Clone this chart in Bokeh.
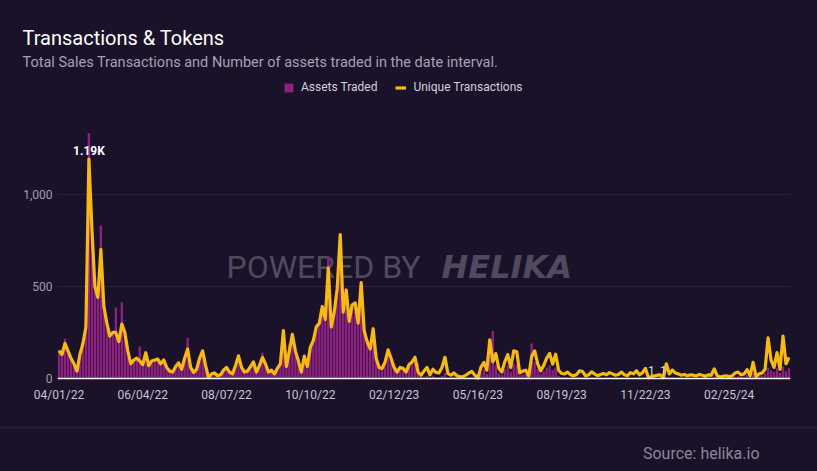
from bokeh.plotting import figure
from bokeh.layouts import column
from bokeh.models import (Range1d, FixedTicker, NumeralTickFormatter, Label, Legend,
                          LegendItem, Span, ColumnDataSource)
from bokeh.core.properties import value
from bokeh.embed import file_html
from bokeh.resources import INLINE

# ---------------- data ----------------
tick_positions = [0, 28, 56, 84, 112, 140, 168, 196, 224]
tick_labels = ["04/01/22", "06/04/22", "08/07/22", "10/10/22", "02/12/23",
               "05/16/23", "08/19/23", "11/22/23", "02/25/24"]

unique_transactions = [
    150, 130, 190, 150, 110, 80, 40, 130, 190, 280,
    1190, 810, 500, 440, 700, 390, 300, 230, 250, 250,
    200, 295, 250, 150, 80, 100, 110, 95, 75, 140,
    70, 95, 100, 105, 80, 100, 60, 40, 35, 65,
    85, 50, 110, 160, 60, 33, 50, 110, 150, 70,
    5, 25, 30, 15, 20, 45, 60, 35, 25, 70,
    123, 60, 35, 40, 65, 90, 35, 70, 114, 80,
    35, 45, 25, 55, 80, 260, 65, 150, 240, 150,
    96, 35, 120, 65, 170, 205, 280, 300, 390, 320,
    600, 280, 360, 490, 780, 360, 480, 310, 400, 410,
    300, 520, 260, 200, 160, 270, 110, 60, 55, 90,
    155, 110, 60, 35, 60, 55, 35, 75, 90, 115,
    35, 18, 40, 60, 20, 50, 33, 30, 60, 115,
    27, 18, 30, 15, 9, 10, 18, 30, 38, 18,
    2, 60, 87, 45, 210, 90, 135, 55, 35, 90,
    130, 60, 150, 145, 30, 40, 45, 14, 120, 150,
    80, 42, 70, 110, 136, 78, 132, 45, 27, 25,
    35, 20, 14, 22, 42, 38, 14, 20, 36, 25,
    15, 22, 27, 20, 32, 25, 18, 22, 35, 20,
    15, 32, 25, 42, 20, 30, 55, 5, 10, 14,
    18, 20, 5, 80, 25, 46, 30, 25, 18, 22,
    15, 20, 18, 14, 22, 18, 12, 20, 18, 52,
    15, 8, 12, 15, 10, 14, 30, 35, 20, 25,
    48, 15, 88, 10, 25, 30, 50, 220, 100, 60,
    140, 50, 230, 80, 115,
]

assets_traded = [
    155, 135, 215, 145, 115, 85, 45, 125, 195, 285,
    1330, 820, 560, 450, 830, 400, 310, 240, 255, 385,
    205, 412, 255, 155, 85, 105, 115, 173, 80, 145,
    75, 100, 105, 110, 85, 105, 65, 45, 40, 70,
    90, 55, 115, 219, 65, 38, 55, 115, 155, 75,
    10, 30, 35, 20, 25, 50, 65, 40, 30, 75,
    128, 65, 40, 45, 70, 95, 40, 75, 139, 85,
    40, 50, 30, 60, 85, 265, 70, 187, 245, 155,
    100, 40, 132, 70, 175, 210, 285, 305, 400, 325,
    660, 285, 365, 495, 760, 365, 485, 315, 405, 415,
    305, 515, 265, 205, 165, 275, 115, 65, 60, 95,
    160, 115, 65, 40, 60, 55, 40, 70, 85, 110,
    83, 8, 10, 15, 6, 12, 8, 6, 14, 30,
    6, 4, 8, 3, 2, 3, 5, 8, 10, 4,
    1, 30, 50, 25, 120, 258, 70, 30, 20, 50,
    70, 35, 80, 75, 18, 22, 25, 8, 190, 90,
    50, 25, 40, 60, 70, 45, 60, 15, 6, 5,
    6, 4, 3, 4, 8, 6, 2, 3, 5, 4,
    2, 3, 4, 3, 5, 4, 2, 3, 5, 3,
    2, 4, 3, 6, 3, 4, 8, 2, 1, 2,
    2, 2, 1, 10, 3, 6, 4, 3, 2, 3,
    2, 3, 2, 2, 3, 2, 2, 3, 2, 8,
    2, 1, 2, 2, 2, 3, 10, 14, 8, 10,
    20, 6, 30, 5, 12, 15, 28, 60, 45, 35,
    55, 30, 65, 40, 55,
]

labelled_asset_points = [198, 202]

idx = list(range(len(unique_transactions)))

# ---------------- style ----------------
BG = "#1a1229"
PURPLE = "#8d2180"
YELLOW = "#f7b913"
FONT = "Roboto"
W = 817


def style_fig(f):
    f.outline_line_color = BG
    f.outline_line_alpha = 1
    f.outline_line_width = 1
    f.frame_align = False
    f.styles = {"background-color": BG}
    return f


def blank(height):
    f = figure(width=W, height=height, output_backend="svg", toolbar_location=None, title=None,
               x_range=Range1d(0, W), y_range=Range1d(height, 0),
               x_axis_type=None, y_axis_type=None, min_border=0,
               background_fill_color=BG, border_fill_color=BG)
    f.grid.visible = False
    return style_fig(f)


# ---------------- header ----------------
header = blank(75)
header.text(x=[22], y=[37], text=["Transactions & Tokens"], text_font=value(FONT),
            text_font_size="20px", text_color="#ffffff", text_baseline="alphabetic")
header.text(x=[22], y=[62],
            text=["Total Sales Transactions and Number of assets traded in the date interval."],
            text_font=value(FONT), text_font_size="14.5px", text_color="#a6a1b1",
            text_baseline="alphabetic")

# ---------------- main chart ----------------
# frame: x 57..790, y 75..380 (canvas); value 0 sits at canvas y 378
p = figure(width=W, height=345, output_backend="svg", toolbar_location=None, title=None,
           x_range=Range1d(-0.5, len(idx) - 0.5), y_range=Range1d(-10.8, 1643),
           min_border_left=57, min_border_right=27, min_border_top=0, min_border_bottom=40,
           background_fill_color=BG, border_fill_color=BG)
style_fig(p)

src = ColumnDataSource(dict(idx=idx, assets=assets_traded, trans=unique_transactions))
bars = p.vbar(x="idx", top="assets", bottom=0, width=0.8, source=src,
              fill_color=PURPLE, line_color=None)
line = p.line(x="idx", y="trans", source=src, line_color=YELLOW, line_width=3.2,
              line_join="round")

# white baseline at zero
p.add_layout(Span(location=0, dimension="width", line_color="white", line_width=1.5))

p.xaxis.ticker = FixedTicker(ticks=tick_positions)
p.xaxis.major_label_overrides = {t: l for t, l in zip(tick_positions, tick_labels)}
p.xaxis.axis_line_color = None
p.xaxis.major_tick_line_color = None
p.xaxis.minor_tick_line_color = None
p.xaxis.major_tick_out = 0
p.xaxis.major_label_standoff = 7
p.xaxis.major_label_text_color = "#c8c3d0"
p.xaxis.major_label_text_font = FONT
p.xaxis.major_label_text_font_size = "12px"

p.yaxis.ticker = FixedTicker(ticks=[0, 500, 1000])
p.yaxis.formatter = NumeralTickFormatter(format="0,0")
p.yaxis.axis_line_color = None
p.yaxis.major_tick_line_color = None
p.yaxis.minor_tick_line_color = None
p.yaxis.major_tick_out = 0
p.yaxis.major_label_standoff = 5
p.yaxis.major_label_text_color = "#a39db0"
p.yaxis.major_label_text_font = FONT
p.yaxis.major_label_text_font_size = "12px"

p.xgrid.visible = False
p.ygrid.grid_line_color = "#2a2240"
p.ygrid.grid_line_width = 1

legend = Legend(items=[LegendItem(label="Assets Traded", renderers=[bars]),
                       LegendItem(label="Unique Transactions", renderers=[line])],
                orientation="horizontal", location=(226, 286),
                background_fill_alpha=0, border_line_color=None, padding=0, margin=0,
                spacing=18, glyph_width=11, glyph_height=11, label_standoff=7,
                label_height=11, label_text_font=FONT, label_text_font_size="12px",
                label_text_color="#d3cfdb", label_text_baseline="middle")
p.add_layout(legend)


def lab(text, x, y, size, color, align="left", style="normal", font=FONT,
        baseline="alphabetic", level="annotation", xu="screen", yu="screen", yoff=0):
    l = Label(text=text, x=x, y=y, x_units=xu, y_units=yu, text_font=font,
              text_font_size=size, text_color=color, text_align=align,
              text_font_style=style, text_baseline=baseline, level=level, y_offset=yoff)
    p.add_layout(l)
    return l


# watermark (screen units from frame bottom-left: frame left=57, bottom=380)
lab("POWERED BY", 169, 114, "32px", "#4f4a5e", level="underlay")
lab("HELIKA", 384, 114, "32px", "#4f4a5e", style="bold italic", font="DejaVu Sans",
    level="underlay")

peak_i = max(idx, key=lambda i: unique_transactions[i])
peak_v = unique_transactions[peak_i]
lab(f"{peak_v/1000:.2f}K", peak_i, peak_v, "12px", "#ffffff", align="center", style="bold",
    baseline="bottom", xu="data", yu="data", yoff=1)

for i in labelled_asset_points:
    lab(str(assets_traded[i]), i, assets_traded[i], "12px", "#dcdcdc", align="center",
        baseline="alphabetic", xu="data", yu="data", yoff=8)

# ---------------- footer ----------------
footer = blank(51)
footer.add_layout(Span(location=7.3, dimension="width", line_color="#2a2144", line_width=1.5))
footer.text(x=[759], y=[33], text=["Source: helika.io"], text_font=value(FONT),
            text_font_size="16px", text_color="#8b8697", text_align="right",
            text_baseline="alphabetic")

layout = column(header, p, footer, spacing=0, styles={"background-color": BG})
html = file_html(layout, INLINE)
html = html.replace("<body>", '<body style="margin:0;background-color:%s;">' % BG, 1)
open("out.html", "w").write(html)
